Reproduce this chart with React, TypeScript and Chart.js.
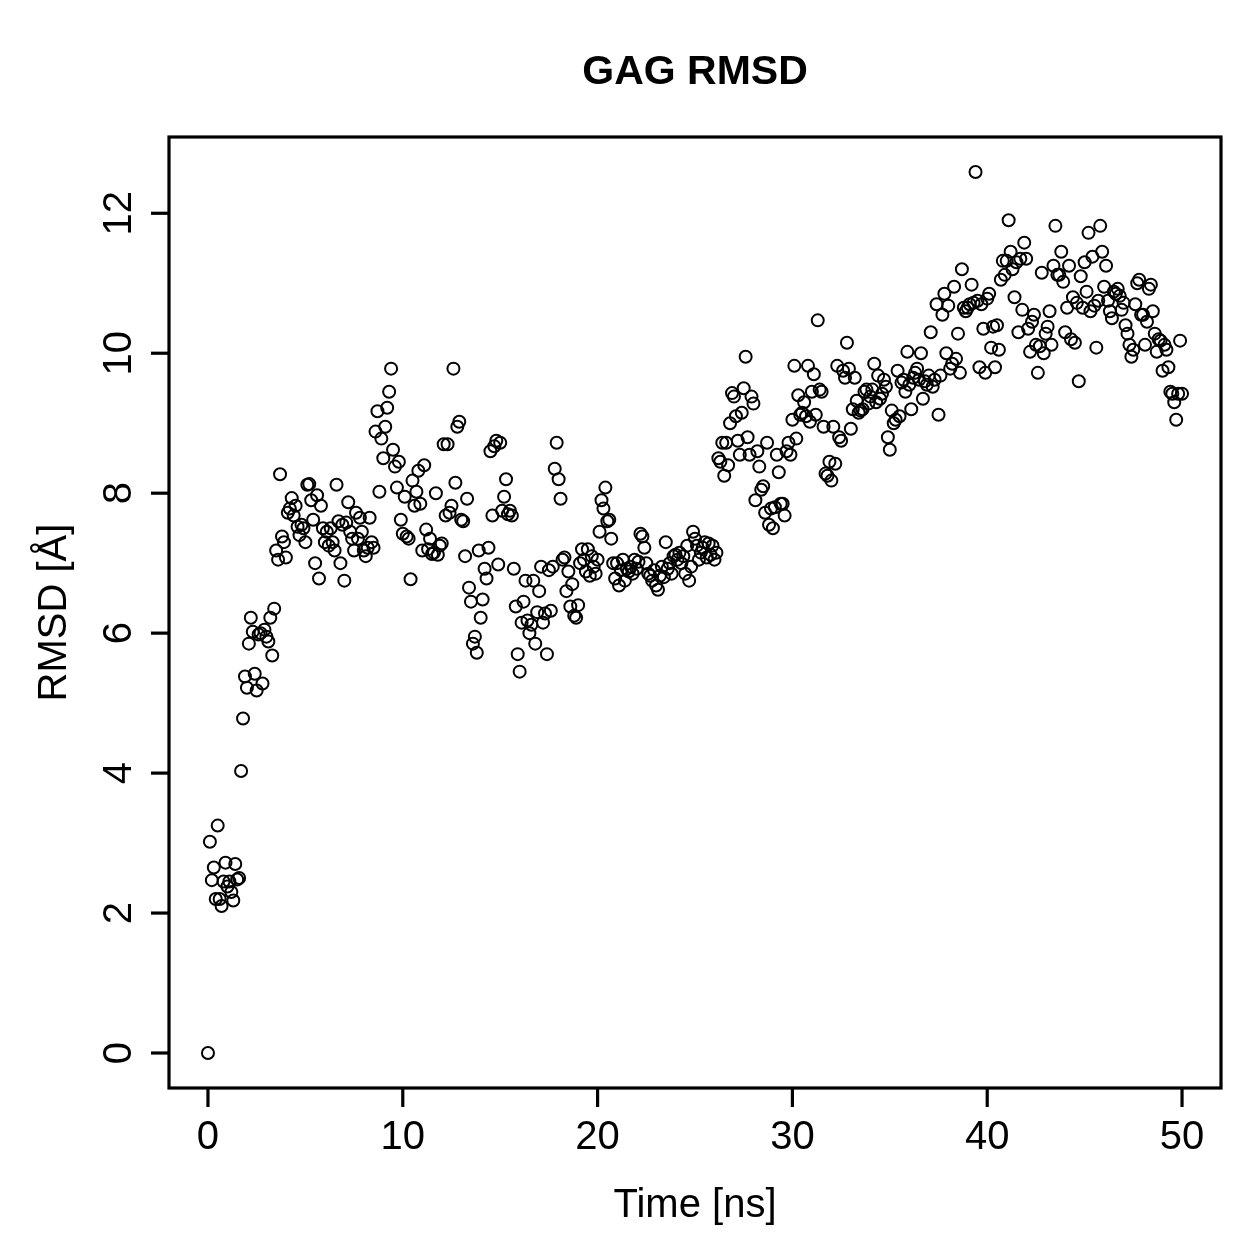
import React, { useEffect, useRef } from "react";
import { Chart, registerables } from "chart.js";

Chart.register(...registerables);

// GAG backbone RMSD over a 50 ns trajectory, one frame every 0.1 ns
const TIME_STEP_NS = 0.1;

const rmsdAngstrom: number[] = [
  0, 3.02, 2.47, 2.65, 2.2, 3.25, 2.2, 2.1, 2.45, 2.72,
  2.38, 2.45, 2.3, 2.18, 2.7, 2.48, 2.5, 4.03, 4.78, 5.38,
  5.22, 5.85, 6.22, 6.02, 5.42, 5.18, 5.98, 6.0, 5.28, 6.05,
  5.95, 5.88, 6.22, 5.68, 6.35, 7.18, 7.05, 8.27, 7.38, 7.3,
  7.08, 7.72, 7.78, 7.93, 7.68, 7.82, 7.52, 7.4, 7.55, 7.5,
  7.3, 8.12, 8.13, 7.9, 7.62, 7.0, 7.97, 6.78, 7.82, 7.5,
  7.3, 7.45, 7.25, 7.5, 7.3, 7.18, 8.12, 7.6, 7.0, 7.55,
  6.75, 7.58, 7.87, 7.45, 7.35, 7.18, 7.72, 7.35, 7.65, 7.45,
  7.18, 7.1, 7.22, 7.65, 7.3, 7.22, 8.88, 9.17, 8.02, 8.78,
  8.5, 8.95, 9.22, 9.45, 9.78, 8.62, 8.38, 8.08, 8.45, 7.62,
  7.42, 7.95, 7.38, 7.35, 6.77, 8.18, 7.82, 8.02, 8.32, 7.85,
  7.18, 8.4, 7.48, 7.2, 7.35, 7.13, 7.15, 8.0, 7.12, 7.25,
  7.28, 8.7, 7.68, 8.7, 7.72, 7.82, 9.78, 8.15, 8.95, 9.02,
  7.62, 7.6, 7.1, 7.92, 6.65, 6.45, 5.85, 5.95, 5.72, 7.18,
  6.22, 6.48, 6.92, 6.78, 7.22, 8.6, 7.68, 8.67, 8.75, 6.98,
  8.72, 7.75, 7.95, 8.2, 7.7, 7.75, 7.68, 6.92, 6.38, 5.7,
  5.45, 6.15, 6.45, 6.75, 6.18, 6.0, 6.12, 6.75, 5.85, 6.3,
  6.6, 6.95, 6.15, 6.28, 5.7, 6.9, 6.32, 6.95, 8.35, 8.72,
  8.2, 7.92, 7.05, 7.08, 6.6, 6.88, 6.38, 6.7, 6.25, 6.22,
  6.4, 7.0, 7.2, 7.05, 6.88, 7.2, 6.82, 7.1, 6.95, 6.85,
  7.05, 7.45, 7.9, 7.78, 8.08, 7.6, 7.62, 7.35, 7.0, 6.78,
  7.0, 6.68, 6.9, 7.05, 6.75, 6.92, 6.88, 6.95, 6.85, 7.05,
  6.92, 7.02, 7.42, 7.38, 7.22, 7.0, 6.85, 6.82, 6.75, 6.9,
  6.68, 6.62, 6.82, 6.95, 6.8, 7.3, 6.92, 7.0, 6.85, 7.1,
  7.12, 7.05, 7.15, 7.0, 7.1, 6.85, 7.25, 6.75, 6.95, 7.45,
  7.35, 7.25, 7.05, 7.15, 7.22, 7.3, 7.08, 7.28, 7.12, 7.25,
  7.05, 7.15, 8.5, 8.45, 8.72, 8.25, 8.72, 8.4, 9.0, 9.43,
  9.38, 9.1, 8.75, 8.55, 9.15, 9.5, 9.95, 8.8, 8.55, 9.38,
  9.28, 7.9, 8.6, 8.38, 8.05, 8.1, 7.72, 8.72, 7.55, 7.78,
  7.5, 7.8, 8.55, 8.3, 7.85, 7.85, 7.68, 8.6, 8.72, 8.55,
  9.05, 9.82, 8.78, 9.4, 9.12, 9.15, 9.3, 9.1, 9.82, 9.02,
  9.45, 9.7, 9.12, 10.47, 9.48, 9.45, 8.95, 8.28, 8.25, 8.45,
  8.18, 8.95, 8.42, 9.82, 8.8, 8.75, 9.75, 9.65, 10.15, 9.78,
  8.92, 9.2, 9.65, 9.32, 9.15, 9.18, 9.2, 9.45, 9.48, 9.28,
  9.38, 9.48, 9.85, 9.3, 9.68, 9.35, 9.42, 9.62, 9.52, 8.8,
  8.62, 9.18, 9.0, 9.05, 9.75, 9.1, 9.58, 9.62, 9.45, 10.02,
  9.55, 9.2, 9.65, 9.72, 9.78, 9.62, 10.0, 9.35, 9.6, 9.55,
  9.68, 10.3, 9.52, 9.62, 10.7, 9.12, 9.68, 10.55, 10.85, 10.0,
  10.68, 9.78, 9.85, 10.95, 9.92, 10.28, 9.72, 11.2, 10.65, 10.6,
  10.65, 10.7, 10.98, 10.72, 12.59, 10.75, 9.8, 10.7, 10.35, 9.72,
  10.78, 10.85, 10.08, 10.38, 9.8, 10.4, 10.05, 11.05, 11.32, 11.12,
  11.32, 11.9, 11.45, 11.2, 10.8, 11.3, 10.3, 11.35, 10.62, 11.58,
  11.35, 10.35, 10.02, 10.45, 10.55, 10.12, 9.72, 10.1, 11.15, 10.0,
  10.28, 10.38, 10.6, 10.12, 11.25, 11.82, 11.12, 11.12, 11.45, 11.02,
  10.3, 10.65, 11.25, 10.2, 10.8, 10.15, 10.72, 9.6, 11.1, 10.65,
  11.3, 10.88, 11.72, 10.6, 11.38, 10.68, 10.08, 10.75, 11.82, 11.45,
  10.95, 11.25, 10.75, 10.6, 10.5, 10.88, 10.85, 10.92, 10.82, 10.62,
  10.72, 10.4, 10.28, 10.12, 9.95, 10.05, 10.7, 11.0, 11.05, 10.55,
  10.55, 10.12, 10.45, 10.92, 10.98, 10.6, 10.28, 10.02, 10.2, 10.18,
  9.75, 10.12, 10.05, 9.8, 9.45, 9.42, 9.3, 9.05, 9.42, 10.18,
  9.42,
];

const xTickValues = [0, 10, 20, 30, 40, 50];
const yTickValues = [0, 2, 4, 6, 8, 10, 12];

const TITLE = "GAG RMSD";
const X_LABEL = "Time [ns]";
const Y_LABEL = "RMSD [Å]";

const FONT_FAMILY = '"Liberation Sans", Arial, Helvetica, sans-serif';

// Base-graphics style frame: a closed box, outward ticks, rotated y labels
const baseAxesPlugin = {
  id: "baseAxes",
  afterDatasetsDraw(chart: any) {
    const { ctx, chartArea: a, scales } = chart;
    const xs = scales.x;
    const ys = scales.y;
    ctx.save();
    ctx.strokeStyle = "#000";
    ctx.fillStyle = "#000";
    ctx.lineWidth = 3.2;
    ctx.lineCap = "butt";

    ctx.strokeRect(a.left, a.top, a.right - a.left, a.bottom - a.top);

    ctx.font = `40px ${FONT_FAMILY}`;

    // x axis ticks and labels
    ctx.textAlign = "center";
    ctx.textBaseline = "alphabetic";
    for (const v of xTickValues) {
      const px = xs.getPixelForValue(v);
      ctx.beginPath();
      ctx.moveTo(px, a.bottom);
      ctx.lineTo(px, a.bottom + 19);
      ctx.stroke();
      ctx.fillText(String(v), px, a.bottom + 61);
    }

    // y axis ticks and labels (rotated, reading upwards)
    for (const v of yTickValues) {
      const py = ys.getPixelForValue(v);
      ctx.beginPath();
      ctx.moveTo(a.left, py);
      ctx.lineTo(a.left - 18, py);
      ctx.stroke();
      ctx.save();
      ctx.translate(a.left - 38, py);
      ctx.rotate(-Math.PI / 2);
      ctx.fillText(String(v), 0, 0);
      ctx.restore();
    }

    const cx = (a.left + a.right) / 2;
    const cy = (a.top + a.bottom) / 2;

    // axis titles
    ctx.fillText(X_LABEL, cx, a.bottom + 129);
    ctx.save();
    ctx.translate(a.left - 103, cy);
    ctx.rotate(-Math.PI / 2);
    ctx.fillText(Y_LABEL, 0, 0);
    ctx.restore();

    // main title
    ctx.font = `bold 41px ${FONT_FAMILY}`;
    ctx.fillText(TITLE, cx, a.top - 53);

    ctx.restore();
  },
};

export default function App() {
  const canvasRef = useRef<HTMLCanvasElement | null>(null);

  useEffect(() => {
    const canvas = canvasRef.current;
    if (!canvas) return;

    const points = rmsdAngstrom.map((r, i) => ({
      x: Math.round(i * TIME_STEP_NS * 10) / 10,
      y: r,
    }));

    const chart = new Chart(canvas, {
      type: "scatter",
      data: {
        datasets: [
          {
            data: points,
            showLine: false,
            pointStyle: "circle",
            pointRadius: 6,
            pointBorderWidth: 2,
            pointBackgroundColor: "rgba(0,0,0,0)",
            pointBorderColor: "#000",
            clip: false,
          },
        ],
      },
      options: {
        animation: false,
        responsive: false,
        devicePixelRatio: 1,
        layout: { padding: { left: 169, top: 137, right: 38, bottom: 171 } },
        scales: {
          x: { type: "linear", min: -2, max: 52, display: false },
          y: { type: "linear", min: -0.5, max: 13.09, display: false },
        },
        plugins: {
          legend: { display: false },
          tooltip: { enabled: false },
          title: { display: false },
        },
        events: [],
      },
      plugins: [baseAxesPlugin],
    });

    return () => chart.destroy();
  }, []);

  return (
    <div
      style={{
        position: "absolute",
        left: 0,
        top: 0,
        width: 1259,
        height: 1259,
        background: "#fff",
      }}
    >
      <canvas ref={canvasRef} width={1259} height={1259} />
    </div>
  );
}
